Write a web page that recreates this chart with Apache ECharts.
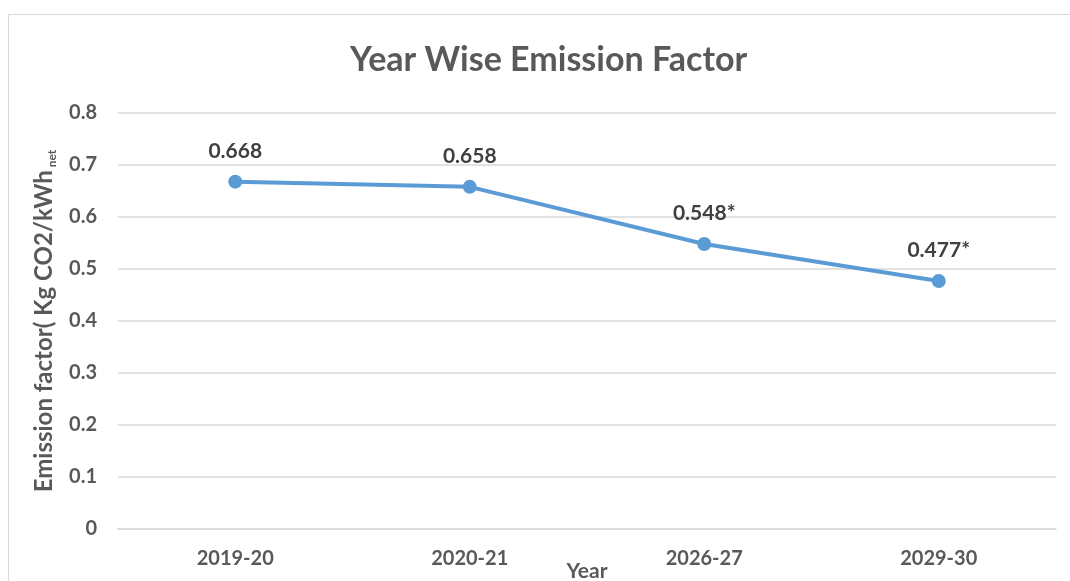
<!DOCTYPE html>
<html>
<head>
<meta charset="utf-8">
<script src="https://cdn.jsdelivr.net/npm/echarts@6/dist/echarts.min.js"></script>
<style>
  html, body { margin: 0; padding: 0; background: #fff; }
  #chart { width: 1070px; height: 581px; }
</style>
</head>
<body>
<div id="chart"></div>
<script>
const years = ['2019-20', '2020-21', '2026-27', '2029-30']
const factors = [0.668, 0.658, 0.548, 0.477]
const pointLabels = ['0.668', '0.658', '0.548*', '0.477*']
const yTicks = [0, 0.1, 0.2, 0.3, 0.4, 0.5, 0.6, 0.7, 0.8]

const font = 'Lato, "Open Sans", sans-serif'
const grey = '#595959'

const chart = echarts.init(document.getElementById('chart'))

chart.setOption({
  animation: false,
  textStyle: { fontFamily: font },
  graphic: [
    {
      type: 'rect',
      shape: { x: 8.5, y: 14.5, width: 1080, height: 600 },
      style: { fill: 'none', stroke: '#d9d9d9', lineWidth: 1 },
      silent: true,
      z: -1
    }
  ],
  title: {
    text: 'Year Wise Emission Factor',
    left: 345,
    top: 38,
    textStyle: { fontFamily: font, fontSize: 34, fontWeight: 'bold', color: grey }
  },
  grid: { left: 118, right: 14, top: 113, bottom: 52, outerBoundsMode: 'none', containLabel: false },
  xAxis: {
    type: 'category',
    data: years,
    name: 'Year',
    nameLocation: 'middle',
    nameGap: 32,
    nameMoveOverlap: false,
    nameTextStyle: { fontFamily: font, fontSize: 21, fontWeight: 'bold', color: grey },
    axisLine: { show: true, lineStyle: { color: '#d9d9d9', width: 1.5 } },
    axisTick: { show: false },
    axisLabel: { fontFamily: font, fontSize: 20, fontWeight: 'bold', color: grey, margin: 20 }
  },
  yAxis: {
    type: 'value',
    min: yTicks[0],
    max: yTicks[yTicks.length - 1],
    interval: 0.1,
    name: '{a|Emission factor( Kg CO2/kWh}{b| net}',
    nameLocation: 'middle',
    nameRotate: 90,
    nameGap: 60,
    nameMoveOverlap: false,
    nameTextStyle: {
      rich: {
        a: { fontFamily: font, fontSize: 24, fontWeight: 'bold', color: grey },
        b: { fontFamily: font, fontSize: 12, fontWeight: 'bold', color: grey, padding: [16, 0, 0, 0] }
      }
    },
    axisLine: { show: false },
    axisTick: { show: false },
    splitLine: { lineStyle: { color: '#d9d9d9', width: 1.5 } },
    axisLabel: {
      fontFamily: font, fontSize: 20, fontWeight: 'bold', color: grey, margin: 21,
      formatter: v => (v === 0 ? '0' : v.toFixed(1))
    }
  },
  series: [
    {
      type: 'line',
      data: factors,
      symbol: 'circle',
      symbolSize: 14,
      lineStyle: { color: '#5b9bd5', width: 4 },
      itemStyle: { color: '#5b9bd5' },
      label: {
        show: true,
        position: 'top',
        distance: 13,
        formatter: p => pointLabels[p.dataIndex],
        fontFamily: font,
        fontSize: 21,
        fontWeight: 'bold',
        color: '#404040'
      }
    }
  ]
})
</script>
</body>
</html>
